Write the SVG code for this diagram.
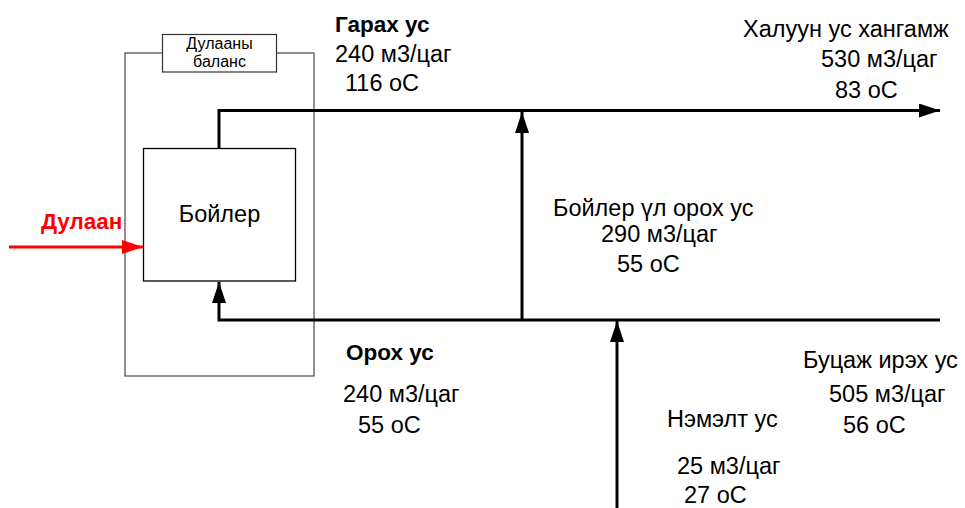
<svg xmlns="http://www.w3.org/2000/svg" width="965" height="508" viewBox="0 0 965 508">
<style>
  .t { font-family: "Liberation Sans", Arial, sans-serif; font-size: 23.5px; fill: #000; }
  .b { font-weight: bold; font-size: 22.5px; }
  .small { font-size: 16px; }
  .pipe { fill: none; stroke: #000; stroke-width: 3; }
  .frame { fill: none; stroke: #555; stroke-width: 1.3; }
</style>
<defs>
  <marker id="ah" markerUnits="userSpaceOnUse" markerWidth="22" markerHeight="16" refX="21" refY="7" orient="auto">
    <path d="M0,0 L21,7 L0,14 Z" fill="#000"/>
  </marker>
  <marker id="ahr" markerUnits="userSpaceOnUse" markerWidth="22" markerHeight="16" refX="21" refY="7" orient="auto">
    <path d="M0,0 L21,7 L0,14 Z" fill="#f00"/>
  </marker>
</defs>
<rect width="965" height="508" fill="#fff"/>

<g id="balance-frame">
  <rect class="frame" x="125" y="53" width="189" height="323"/>
</g>
<g id="balance-label">
  <rect x="162.5" y="34.5" width="114" height="37.5" fill="#fff" stroke="#333" stroke-width="1.2"/>
  <text class="t small" x="219.5" y="49" text-anchor="middle">Дулааны</text>
  <text class="t small" x="219.5" y="67" text-anchor="middle">баланс</text>
</g>
<g id="boiler">
  <rect x="143.5" y="148.5" width="152" height="132.5" fill="#fff" stroke="#000" stroke-width="1.3"/>
  <text class="t" x="219.5" y="222" text-anchor="middle" font-size="24.5">Бойлер</text>
</g>

<g id="connectors">
  <polyline class="pipe" points="219,148 219,110.5 940,110.5" marker-end="url(#ah)"/>
  <line class="pipe" x1="522" y1="320" x2="522" y2="112" marker-end="url(#ah)"/>
  <polyline class="pipe" points="940,320 219,320 219,282" marker-end="url(#ah)"/>
  <line class="pipe" x1="617" y1="508" x2="617" y2="321" marker-end="url(#ah)"/>
  <line x1="9" y1="247" x2="143" y2="247" stroke="#f00" stroke-width="3" marker-end="url(#ahr)"/>
</g>

<g id="labels">
  <text class="t b" x="41" y="229" style="fill:#f00">Дулаан</text>

  <text class="t b" x="335" y="32">Гарах ус</text>
  <text class="t" x="335" y="62">240 м3/цаг</text>
  <text class="t" x="345" y="91">116 оС</text>

  <text class="t" x="743" y="37">Халуун ус хангамж</text>
  <text class="t" x="821" y="67">530 м3/цаг</text>
  <text class="t" x="835" y="98">83 оС</text>

  <text class="t" x="553" y="216">Бойлер үл орох ус</text>
  <text class="t" x="601" y="242">290 м3/цаг</text>
  <text class="t" x="617" y="272">55 оС</text>

  <text class="t b" x="346" y="360">Орох ус</text>
  <text class="t" x="343" y="402">240 м3/цаг</text>
  <text class="t" x="358" y="433">55 оС</text>

  <text class="t" x="803" y="368">Буцаж ирэх ус</text>
  <text class="t" x="829" y="402">505 м3/цаг</text>
  <text class="t" x="843" y="433">56 оС</text>

  <text class="t" x="667" y="427">Нэмэлт ус</text>
  <text class="t" x="677" y="474">25 м3/цаг</text>
  <text class="t" x="684" y="503">27 оС</text>
</g>
</svg>
